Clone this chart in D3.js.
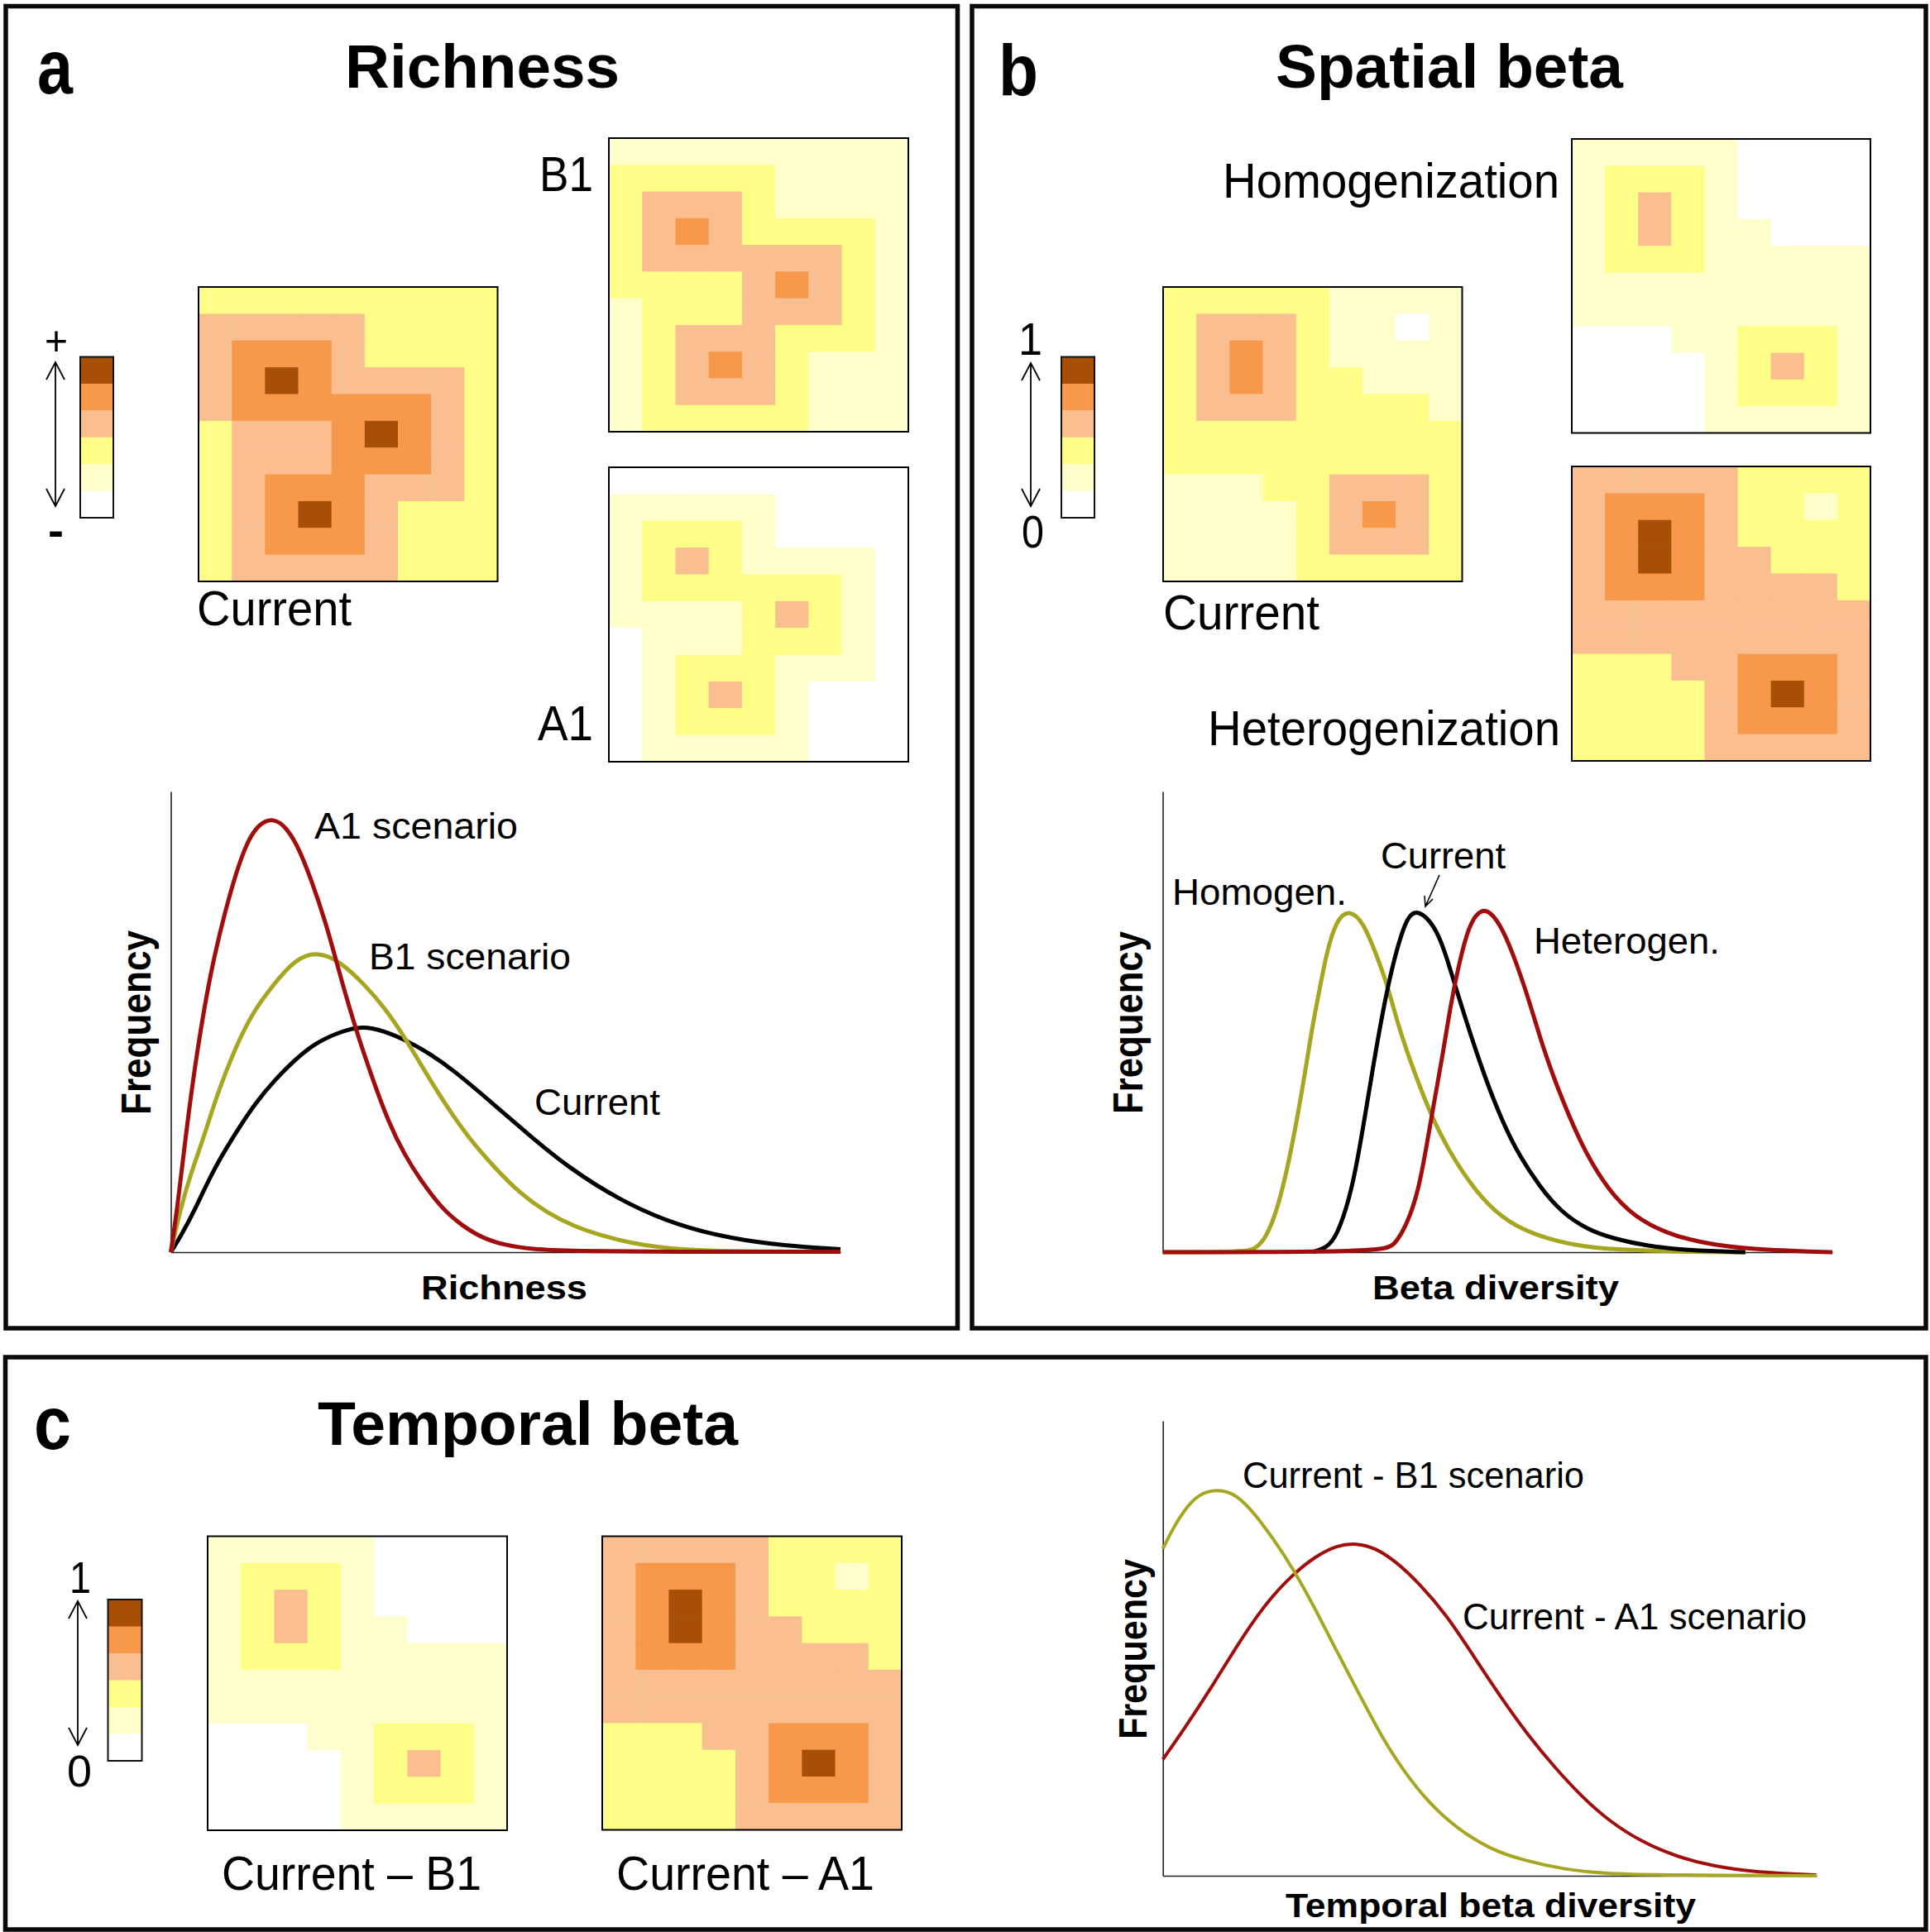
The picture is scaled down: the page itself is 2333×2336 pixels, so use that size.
<!DOCTYPE html>
<html><head><meta charset="utf-8">
<script src="https://cdn.jsdelivr.net/npm/d3@7/dist/d3.min.js"></script>
<style>html,body{margin:0;padding:0;background:#fff}svg{display:block}text{font-family:"Liberation Sans",Arial,sans-serif;fill:#000}</style>
</head><body><svg id="c" width="2333" height="2336"></svg>
<script>
// ---------- colour classes ----------
const levels = ["#FFFFFF","#FFFFCC","#FFFF88","#FABF90","#F8984A","#A84F06"];
const legendLevels = [5,4,3,2,1,0];

// ---------- map grids (class level per cell, 11 rows x 9 columns) ----------
const richCurrent = ["222222222","333332222","344432222","345433332","344444432","233345432","233344432","234443332","234543222","234443222","233333222"];
const richB1 = ["111111111","222221111","233321111","234322221","233333321","222234321","122233321","123332221","123432111","123332111","122222111"];
const richA1 = ["000000000","111110000","122210000","123211110","122222210","111123210","011122210","012221110","012321000","012221000","011111000"];
const betaCurrent = ["222221111","233321101","234321111","234322111","233322221","222222222","222222222","111223332","111123432","111123332","111122222"];
const betaHomog = ["111110000","122210000","123210000","123211000","122211111","111111111","111111111","000112221","000012321","000012221","000011111"];
const betaHeterog = ["333332222","344432212","345432222","345433222","344433332","333333333","333333333","222334443","222234543","222234443","222233333"];
const tempB1 = betaHomog;
const tempA1 = betaHeterog;

// ---------- curves (arbitrary units) ----------
const aRedX = [0,1.3,2.8,4.3,6.3,8.3,10.3,12.4,14.5,16.8,19.4,21.9,24.3,26.6,29.4,32.3,35.3,38.3,41.3,44.3,47.3,51.3,55.3,59.3,63.3,68.3,76.3,93.3,127];
const aRedY = [0,13,32.3,49.3,68.3,83.3,95.3,106.3,115,120,121.5,119,113,104.3,92.3,76.3,61.3,48.3,36.3,27.3,20.3,12.3,7.3,3.8,2,0.8,0.3,0.1,0.1];
const aOliveX = [0,1.8,3.8,6.1,8.1,10.3,12.8,15.7,18.6,23.8,28,32,36.8,40.6,44.5,48.3,52.3,56.3,61.3,66.3,71.3,76.3,81.3,87.3,93.3,100.3,107.3,127];
const aOliveY = [0,12,22,31.5,41,50,59,67.3,73.3,82.5,84,81.5,74.8,68.3,59.8,50.3,40.8,32.3,23.8,16.3,11.1,7.3,4.8,2.5,1.2,.5,.2,.1];
const aBlackX = [0,1.8,4.3,7.8,11.8,16.3,19.8,23.3,27.3,32.3,36.3,40.3,45.3,49.3,53.3,61.3,68.3,75.3,85.3,96.3,106.3,116.3,127];
const aBlackY = [0,4.3,11,22.3,32.3,42.3,48.3,53.5,58.5,61.8,63.3,62,58.8,55.3,51.3,41.3,32.3,23.8,14.3,7.3,3.8,1.8,.8];

const bOliveX = [0,15.5,17.5,19.5,21.5,23.5,25.5,27,28.5,30,31,33,35.5,38,40.5,42.5,44.5,46.5,49.5,52.5,55.5,60.5,65.5,71.5,78.5,85.5,98.5,110.5];
const bOliveY = [0,.1,.8,3.8,10.8,22.3,37.3,50.3,64.3,75.3,83.3,93.4,95.8,92.4,83.3,75.3,64.3,55.3,43.3,33.3,25.3,14.8,8.3,4.3,1.8,.7,.1,0];
const bBlackX = [28.5,31,33,35.5,37,38.5,40.5,42.5,44.5,46.5,48.5,51.5,53.5,55.5,58.5,61.5,64.5,67.5,71.5,75.5,80.5,85.5,91.5,99.5,110.5];
const bBlackY = [.1,1.1,4.3,15.3,26.3,39.3,57.3,73.3,85.5,94.4,95.8,91.5,84.3,74.3,60.3,47.3,36.3,27.3,18.3,11.3,6.3,3.8,1.8,.5,0];
const bRedX = [0,41.5,44,46.5,48.5,50,51.5,53,54.5,56,58,60,62,64.5,67,69.5,71.5,74,77,80,84.5,89.5,95.5,101.5,110.5,124.5,127];
const bRedY = [0,.1,1.8,8.3,17.3,29.3,42.3,54.3,68.3,79.5,91.3,95.7,95.7,90.5,81.3,70.3,60.3,49.3,38.3,28.3,17.3,9.8,5.3,2.8,.8,.1,0];

const cOliveX = [0,2,4,6.5,10,13.5,17,20,24,28,32,36,40,44,49,54,60,66,74,81,89,120];
const cOliveY = [94.7,101,106,110.5,112,110.5,104.5,98.2,88.7,77.2,64.7,52.7,40.7,30.7,20.7,13.7,7.7,4.5,1.7,.7,.2,0];
const cRedX = [0,4,9,14,19,24,28,32,35.5,39,43,47,52,57,62,67,72,77,82,88,94,101,109,120];
const cRedY = [33.7,42.7,54.7,67.7,79.2,87.5,92.5,95.7,96.3,95,90.7,84.7,75.7,63.7,51.7,40.7,31.2,22.7,15.7,9.7,5.7,2.7,1,.2];

const RED = "#A10D0D", OLIVE = "#A6A620", BLACK = "#000";
const svg = d3.select("#c");

// ---------- helpers ----------
function txt(s, x0, x1, base, size, bold){
  svg.append("text").text(s).attr("x",x0).attr("y",base)
    .attr("font-size",size).attr("font-weight",bold?"bold":"normal")
    .attr("textLength",x1-x0).attr("lengthAdjust","spacingAndGlyphs");
}
function vtxt(s, base, y0, y1, size){
  svg.append("text").text(s)
    .attr("transform",`translate(${base},${y1}) rotate(-90)`)
    .attr("font-size",size).attr("font-weight","bold")
    .attr("textLength",y1-y0).attr("lengthAdjust","spacingAndGlyphs");
}
function frame(x0,y0,x1,y1){
  svg.append("rect").attr("x",x0).attr("y",y0).attr("width",x1-x0).attr("height",y1-y0)
    .attr("fill","none").attr("stroke","#0a0a0a").attr("stroke-width",5.5);
}
function grid(rows,x0,x1,y0,y1){
  const x = d3.scaleBand().domain(d3.range(rows[0].length)).range([x0,x1]);
  const y = d3.scaleBand().domain(d3.range(rows.length)).range([y0,y1]);
  const cells = rows.flatMap((r,j)=>Array.from(r,(v,i)=>({i,j,v:+v})));
  const g = svg.append("g");
  g.selectAll("rect").data(cells).join("rect")
    .attr("x",d=>x(d.i)).attr("y",d=>y(d.j))
    .attr("width",x.bandwidth()+.6).attr("height",y.bandwidth()+.6)
    .attr("fill",d=>levels[d.v]);
  g.append("rect").attr("x",x0).attr("y",y0).attr("width",x1-x0).attr("height",y1-y0)
    .attr("fill","none").attr("stroke","#000").attr("stroke-width",2);
}
function colorbar(x0,x1,y0,y1){
  const y = d3.scaleBand().domain(legendLevels).range([y0,y1]);
  svg.append("g").selectAll("rect").data(legendLevels).join("rect")
    .attr("x",x0).attr("width",x1-x0).attr("y",d=>y(d)).attr("height",y.bandwidth()+.5)
    .attr("fill",d=>levels[d]);
  svg.append("rect").attr("x",x0).attr("y",y0).attr("width",x1-x0).attr("height",y1-y0)
    .attr("fill","none").attr("stroke","#111").attr("stroke-width",2);
}
function dblArrow(x,y0,y1){
  const h=21,w=11;
  svg.append("path").attr("fill","none").attr("stroke","#000").attr("stroke-width",1.8)
    .attr("d",`M${x},${y0}V${y1}M${x-w},${y0+h}L${x},${y0}L${x+w},${y0+h}M${x-w},${y1-h}L${x},${y1}L${x+w},${y1-h}`);
}
function chart(x0,x1,y0,y1,dx,dy,series,sw){
  const x = d3.scaleLinear().domain([0,dx]).range([x0,x1]);
  const y = d3.scaleLinear().domain([0,dy]).range([y1,y0]);
  const g = svg.append("g");
  g.append("g").attr("transform",`translate(${x0},0)`).call(d3.axisLeft(y).tickValues([]).tickSizeOuter(0))
    .select("path").attr("stroke","#222").attr("stroke-width",1.6);
  g.append("g").attr("transform",`translate(0,${y1})`).call(d3.axisBottom(x).tickValues([]).tickSizeOuter(0))
    .select("path").attr("stroke","#222").attr("stroke-width",1.6);
  const line = d3.line().x(d=>x(d[0])).y(d=>y(d[1])).curve(d3.curveBasis);
  series.forEach(s=>{
    g.append("path").datum(d3.zip(s.xs,s.ys)).attr("d",line)
      .attr("fill","none").attr("stroke",s.c).attr("stroke-width",sw).attr("stroke-linejoin","round");
  });
}

// ---------- frames ----------
frame(7,7.5,1157.5,1606);
frame(1175,7.5,2328,1606);
frame(6.5,1641,2328,2333);

// ---------- panel a ----------
txt("a",45,88,113,92,true);
txt("Richness",417,749,106,74,true);
grid(richCurrent,240,601.5,347,703);
grid(richB1,736,1098,167,522);
grid(richA1,736,1098,565,921);
colorbar(97,137,431.5,626);
dblArrow(67,438,612);
txt("+",54,82,429,50,false);
txt("-",58,77,660,54,true);
txt("Current",238,425,756,59,false);
txt("B1",652,717,231,59,false);
txt("A1",650,717,895,59,false);
chart(206.5,1016,957,1514,127,128.9,[
  {xs:aBlackX,ys:aBlackY,c:BLACK},{xs:aOliveX,ys:aOliveY,c:OLIVE},{xs:aRedX,ys:aRedY,c:RED}],5);
txt("A1 scenario",380,626,1014,44,false);
txt("B1 scenario",446,690,1172,44,false);
txt("Current",646,798,1348,44,false);
vtxt("Frequency",182,1125,1348,50);
txt("Richness",509,710,1571,40,true);

// ---------- panel b ----------
txt("b",1207,1255,115,88,true);
txt("Spatial beta",1542,1962,106,74,true);
grid(betaCurrent,1406,1767.5,347,703);
grid(betaHomog,1900,2261,168,523.5);
grid(betaHeterog,1900,2261,564,920);
colorbar(1283,1323,431.5,626);
dblArrow(1246,439,612);
txt("1",1231,1260,429,56,false);
txt("0",1235,1262,662,56,false);
txt("Homogenization",1478,1885,239,59,false);
txt("Heterogenization",1460,1886,901,59,false);
txt("Current",1406,1595,761,59,false);
chart(1405.5,2215,957,1514,127,128.9,[
  {xs:bOliveX,ys:bOliveY,c:OLIVE},{xs:bBlackX,ys:bBlackY,c:BLACK},{xs:bRedX,ys:bRedY,c:RED}],5);
txt("Current",1669,1820,1050,44,false);
txt("Homogen.",1417,1628,1094,44,false);
txt("Heterogen.",1854,2079,1153,44,false);
svg.append("path").attr("fill","none").attr("stroke","#000").attr("stroke-width",1.6)
  .attr("d","M1740,1058L1723,1096M1722,1083L1723,1096L1732,1087");
vtxt("Frequency",1381,1126,1347,50);
txt("Beta diversity",1659,1957,1571,40,true);

// ---------- panel c ----------
txt("c",41,86,1752,90,true);
txt("Temporal beta",384,892,1747,74,true);
grid(tempB1,251,613,1857.5,2213);
grid(tempA1,728,1090,1857.5,2212.5);
colorbar(130.5,171.5,1934,2129);
dblArrow(94,1936,2110);
txt("1",84,110,1926,54,false);
txt("0",81,111,2160,54,false);
txt("Current – B1",268,582,2285,58,false);
txt("Current – A1",745,1057,2285,58,false);
chart(1405.7,2196,1718,2268,120,131.7,[
  {xs:cRedX,ys:cRedY,c:RED},{xs:cOliveX,ys:cOliveY,c:OLIVE}],4);
txt("Current - B1 scenario",1502,1915,1799,44,false);
txt("Current - A1 scenario",1768,2184,1970,44,false);
vtxt("Frequency",1386,1885,2103,48);
txt("Temporal beta diversity",1554,2050,2318,40,true);
</script></body></html>
